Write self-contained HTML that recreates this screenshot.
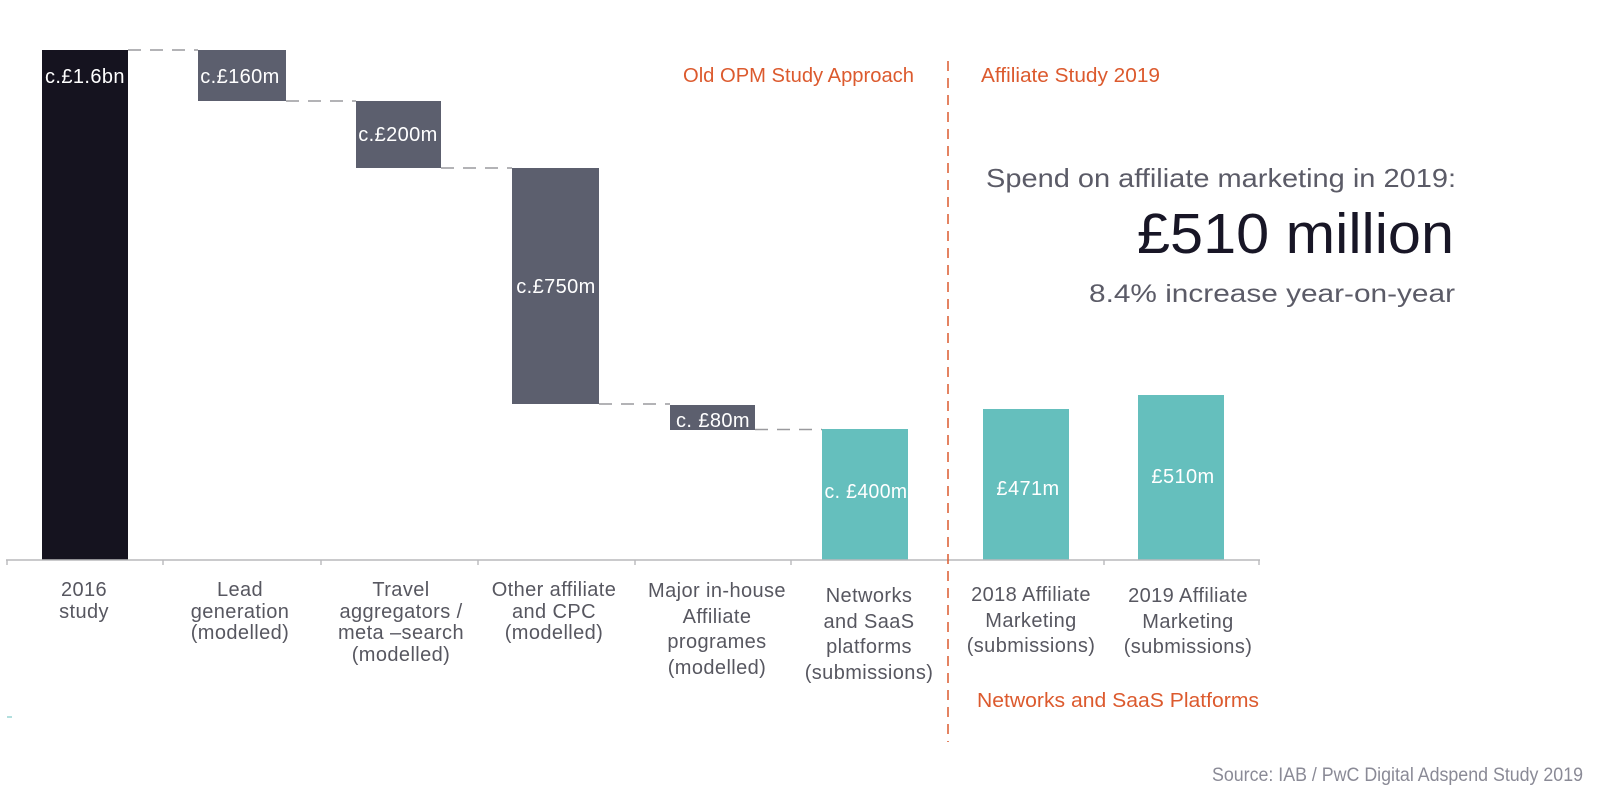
<!DOCTYPE html>
<html>
<head>
<meta charset="utf-8">
<style>
  html, body { margin:0; padding:0; background:#ffffff; }
  body { width:1606px; height:802px; overflow:hidden; }
  svg { display:block; }
  .lbl { font-family:"Liberation Sans", sans-serif; font-size:20px; fill:#ffffff; letter-spacing:0.4px; }
  .cat { font-family:"Liberation Sans", sans-serif; font-size:20px; fill:#575760; letter-spacing:0.4px; }
  .or  { font-family:"Liberation Sans", sans-serif; font-size:20px; fill:#dc5a2e; }
  .rt  { font-family:"Liberation Sans", "DejaVu Sans", sans-serif; }
</style>
</head>
<body>
<svg width="1606" height="802" viewBox="0 0 1606 802" xmlns="http://www.w3.org/2000/svg">
  <rect x="0" y="0" width="1606" height="802" fill="#ffffff"/>

  <!-- dashed connectors -->
  <g stroke="#9a9a9e" stroke-width="1.6" stroke-dasharray="13 9" fill="none">
    <line x1="128" y1="50" x2="198" y2="50"/>
    <line x1="286" y1="101" x2="356" y2="101"/>
    <line x1="441" y1="168" x2="512" y2="168"/>
    <line x1="599" y1="404" x2="670" y2="404"/>
    <line x1="755" y1="429.5" x2="822" y2="429.5"/>
  </g>

  <!-- bars -->
  <rect x="42" y="50" width="86" height="510" fill="#15131f"/>
  <rect x="198" y="50" width="88" height="51" fill="#5c5f6e"/>
  <rect x="356" y="101" width="85" height="67" fill="#5c5f6e"/>
  <rect x="512" y="168" width="87" height="236" fill="#5c5f6e"/>
  <rect x="670" y="405" width="85" height="25" fill="#5c5f6e"/>
  <rect x="822" y="429" width="86" height="131" fill="#65bfbd"/>
  <rect x="983" y="409" width="86" height="151" fill="#65bfbd"/>
  <rect x="1138" y="395" width="86" height="165" fill="#65bfbd"/>

  <!-- bar labels -->
  <text class="lbl" x="85" y="83" text-anchor="middle">c.£1.6bn</text>
  <text class="lbl" x="240" y="83" text-anchor="middle">c.£160m</text>
  <text class="lbl" x="398" y="141" text-anchor="middle">c.£200m</text>
  <text class="lbl" x="556" y="293" text-anchor="middle">c.£750m</text>
  <text class="lbl" x="713" y="427" text-anchor="middle">c. £80m</text>
  <text class="lbl" x="866" y="498" text-anchor="middle" textLength="83" lengthAdjust="spacingAndGlyphs">c. £400m</text>
  <text class="lbl" x="1028" y="495" text-anchor="middle">£471m</text>
  <text class="lbl" x="1183" y="483" text-anchor="middle">£510m</text>

  <!-- axis -->
  <line x1="6" y1="560" x2="1260" y2="560" stroke="#b9b9bc" stroke-width="1.6"/>
  <g stroke="#b9b9bc" stroke-width="1.4">
    <line x1="7" y1="560" x2="7" y2="565"/>
    <line x1="163" y1="560" x2="163" y2="565"/>
    <line x1="321" y1="560" x2="321" y2="565"/>
    <line x1="478" y1="560" x2="478" y2="565"/>
    <line x1="635" y1="560" x2="635" y2="565"/>
    <line x1="791" y1="560" x2="791" y2="565"/>
    <line x1="1104" y1="560" x2="1104" y2="565"/>
    <line x1="1259" y1="560" x2="1259" y2="565"/>
  </g>

  <!-- category labels -->
  <g class="cat" text-anchor="middle">
    <text x="84" y="596">2016</text>
    <text x="84" y="618">study</text>

    <text x="240" y="596">Lead</text>
    <text x="240" y="618">generation</text>
    <text x="240" y="639">(modelled)</text>

    <text x="401" y="596">Travel</text>
    <text x="401" y="618">aggregators /</text>
    <text x="401" y="639">meta –search</text>
    <text x="401" y="661">(modelled)</text>

    <text x="554" y="596">Other affiliate</text>
    <text x="554" y="618">and CPC</text>
    <text x="554" y="639">(modelled)</text>

    <text x="717" y="597">Major in-house</text>
    <text x="717" y="623">Affiliate</text>
    <text x="717" y="648">programes</text>
    <text x="717" y="674">(modelled)</text>

    <text x="869" y="602">Networks</text>
    <text x="869" y="628">and SaaS</text>
    <text x="869" y="653">platforms</text>
    <text x="869" y="679">(submissions)</text>

    <text x="1031" y="601">2018 Affiliate</text>
    <text x="1031" y="627">Marketing</text>
    <text x="1031" y="652">(submissions)</text>

    <text x="1188" y="602">2019 Affiliate</text>
    <text x="1188" y="628">Marketing</text>
    <text x="1188" y="653">(submissions)</text>
  </g>

  <!-- vertical dashed divider -->
  <line x1="948" y1="61" x2="948" y2="742" stroke="#dc5a2e" stroke-width="1.5" stroke-dasharray="10 7"/>

  <!-- orange headings -->
  <text class="or" x="683" y="82" textLength="231" lengthAdjust="spacingAndGlyphs">Old OPM Study Approach</text>
  <text class="or" x="981" y="82" textLength="179" lengthAdjust="spacingAndGlyphs">Affiliate Study 2019</text>
  <text class="or" x="977" y="707" textLength="282" lengthAdjust="spacingAndGlyphs">Networks and SaaS Platforms</text>

  <!-- right-side callout -->
  <text class="rt" x="986" y="187" font-size="26" fill="#5b5b67" textLength="470" lengthAdjust="spacingAndGlyphs">Spend on affiliate marketing in 2019:</text>
  <text class="rt" x="1137" y="253" font-size="57" fill="#181626" textLength="317" lengthAdjust="spacingAndGlyphs">£510 million</text>
  <text class="rt" x="1089" y="302" font-size="25" fill="#5b5b67" textLength="366" lengthAdjust="spacingAndGlyphs">8.4% increase year-on-year</text>

  <!-- source -->
  <text class="rt" x="1212" y="781" font-size="19" fill="#8a8a96" textLength="371" lengthAdjust="spacingAndGlyphs">Source: IAB / PwC Digital Adspend Study 2019</text>

  <!-- small artifact -->
  <line x1="7" y1="717" x2="12" y2="717" stroke="#65bfbd" stroke-width="1"/>
</svg>
</body>
</html>
